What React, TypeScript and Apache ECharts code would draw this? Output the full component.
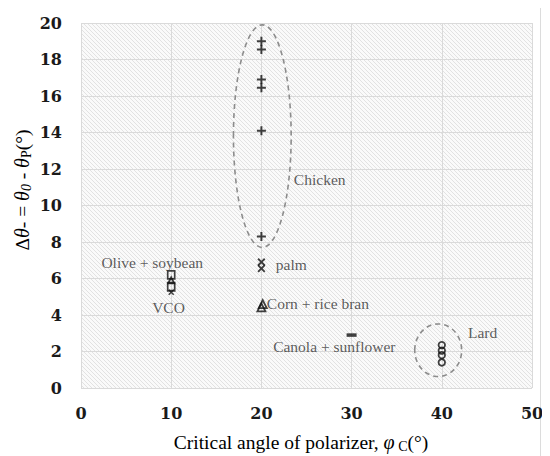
import React, { useEffect, useRef } from "react";
import * as echarts from "echarts";

// ---- data (x = critical angle φC, y = Δθ) ----
const chickenPts = [[20, 19.0], [20, 18.55], [20, 16.9], [20, 16.45], [20, 14.1], [20, 8.3]];
const palmPts = [[20, 6.9], [20, 6.55]];
const cornPts = [[20, 4.42], [20.15, 4.6]];
const canolaPts = [[30, 2.9]];
const lardPts = [[40, 2.35], [40, 2.05], [40, 1.8], [40, 1.4]];
const olivePts = [[10, 6.2], [10, 5.55]];
const vcoTriPts = [[10, 5.9]];
const vcoPts = [[10, 5.25]];
// ellipses: [cx, cy, rx, ry] in data units
const ellipses = [[20.1, 13.8, 3.2, 6.1], [39.6, 2.07, 2.6, 1.44]];
// annotation labels: [x, y, text, align]
const labels: [number, number, string, string][] = [
  [23.6, 11.4, "Chicken", "left"],
  [7.9, 6.9, "Olive + soybean", "center"],
  [9.7, 4.4, "VCO", "center"],
  [21.6, 6.75, "palm", "left"],
  [20.6, 4.65, "Corn + rice bran", "left"],
  [21.3, 2.25, "Canola + sunflower", "left"],
  [42.9, 3.03, "Lard", "left"],
];

const SERIF = "'Liberation Serif', 'Times New Roman', serif";
const PLUS = "path://M3.9,0H6.1V3.9H10V6.1H6.1V10H3.9V6.1H0V3.9H3.9Z";
const CROSS = "path://M0,1.5L1.5,0L4.5,3L7.5,0L9,1.5L6,4.5L9,7.5L7.5,9L4.5,6L1.5,9L0,7.5L3,4.5Z";

function makeHatch(): string {
  const c = document.createElement("canvas");
  c.width = 4;
  c.height = 4;
  const ctx = c.getContext("2d")!;
  ctx.fillStyle = "#fafafa";
  ctx.fillRect(0, 0, 4, 4);
  ctx.strokeStyle = "#e2e2e2";
  ctx.lineWidth = 1;
  ctx.beginPath();
  ctx.moveTo(-1, -1); ctx.lineTo(5, 5);
  ctx.moveTo(-1, 3); ctx.lineTo(1, 5);
  ctx.moveTo(3, -1); ctx.lineTo(5, 1);
  ctx.stroke();
  return c.toDataURL();
}

export default function App() {
  const ref = useRef<HTMLDivElement>(null);
  useEffect(() => {
    const chart = echarts.init(ref.current!, undefined, { renderer: "svg" });
    const hatch = makeHatch();
    const black = "#111";
    const emptyStyle = { color: "rgba(255,255,255,0)", borderColor: black, borderWidth: 1.8 };
    const richBase = {
      n: { fontFamily: SERIF, fontSize: 19.5, color: "#333", lineHeight: 22 },
      i: { fontFamily: SERIF, fontStyle: "italic", fontSize: 20, color: "#333", lineHeight: 22 },
      s: { fontFamily: SERIF, fontSize: 14, color: "#333", lineHeight: 11, verticalAlign: "bottom" },
      si: { fontFamily: SERIF, fontStyle: "italic", fontSize: 14, color: "#333", lineHeight: 11, verticalAlign: "bottom" },
    };
    chart.setOption({
      animation: false,
      grid: {
        left: 81, right: 18, top: 23, bottom: 68,
        show: true, borderWidth: 0,
        backgroundColor: { image: hatch, repeat: "repeat", imageWidth: 4, imageHeight: 4 },
      },
      xAxis: {
        type: "value", min: 0, max: 50, interval: 10,
        axisLine: { show: false }, axisTick: { show: false },
        splitLine: { lineStyle: { color: "#dadada", width: 1 } },
        axisLabel: { margin: 17, fontFamily: "DejaVu Serif", fontWeight: "bold", fontSize: 16, color: "#1a1a1a" },
      },
      yAxis: {
        type: "value", min: 0, max: 20, interval: 2,
        axisLine: { show: false }, axisTick: { show: false },
        splitLine: { lineStyle: { color: "#dadada", width: 1 } },
        axisLabel: { margin: 19, fontFamily: "DejaVu Serif", fontWeight: "bold", fontSize: 16, color: "#1a1a1a" },
      },
      graphic: [
        { type: "rect", left: 3, top: 5, shape: { width: 535, height: 470 }, style: { fill: "none", stroke: "#dcdcdc", lineWidth: 1 }, silent: true },
        {
          type: "text", x: 301, y: 442,
          style: {
            text: "{n|Critical angle of polarizer, }{i|φ}{s| C}{n|(°)}",
            align: "center", verticalAlign: "middle",
            rich: richBase,
          },
        },
        {
          type: "text", x: 22, y: 190, rotation: Math.PI / 2,
          style: {
            text: "{n|Δ}{i|θ}{n|- = }{i|θ}{si|0}{n| - }{i|θ}{s|P}{n|(°)}",
            align: "center", verticalAlign: "middle",
            rich: richBase,
          },
        },
      ],
      series: [
        {
          type: "custom",
          data: ellipses,
          silent: true,
          z: 1,
          renderItem: (params: any, api: any) => {
            const c = api.coord([api.value(0), api.value(1)]);
            const s = api.size([api.value(2), api.value(3)]);
            return {
              type: "ellipse",
              shape: { cx: c[0], cy: c[1], rx: s[0], ry: s[1] },
              style: { fill: "none", stroke: "#8c8c8c", lineWidth: 1.6, lineDash: [5, 4] },
            };
          },
        },
        { type: "scatter", data: chickenPts, symbol: PLUS, symbolSize: 9, itemStyle: { color: black }, z: 3 },
        { type: "scatter", data: palmPts, symbol: CROSS, symbolSize: 8, itemStyle: { color: black }, z: 3 },
        { type: "scatter", data: cornPts, symbol: "triangle", symbolSize: 8, itemStyle: emptyStyle, z: 3 },
        { type: "scatter", data: canolaPts, symbol: "rect", symbolSize: [10, 3.5], itemStyle: { color: black }, z: 3 },
        { type: "scatter", data: lardPts, symbol: "circle", symbolSize: 6.5, itemStyle: emptyStyle, z: 3 },
        { type: "scatter", data: olivePts, symbol: "rect", symbolSize: [7, 8], itemStyle: emptyStyle, z: 3 },
        { type: "scatter", data: vcoTriPts, symbol: "triangle", symbolSize: 6, itemStyle: emptyStyle, z: 3 },
        { type: "scatter", data: vcoPts, symbol: CROSS, symbolSize: 6, itemStyle: { color: black }, z: 3 },
        {
          type: "scatter",
          data: labels.map((l) => ({
            value: [l[0], l[1]],
            label: {
              show: true, position: "inside", formatter: l[2], align: l[3],
              fontFamily: SERIF, fontSize: 15.5, color: "#333",
            },
          })),
          symbolSize: 0.1,
          itemStyle: { color: "rgba(0,0,0,0)" },
          silent: true,
          z: 4,
        },
      ],
    });
    return () => chart.dispose();
  }, []);
  return <div ref={ref} style={{ width: 550, height: 456, marginLeft: -8, marginTop: -8 }} />;
}
